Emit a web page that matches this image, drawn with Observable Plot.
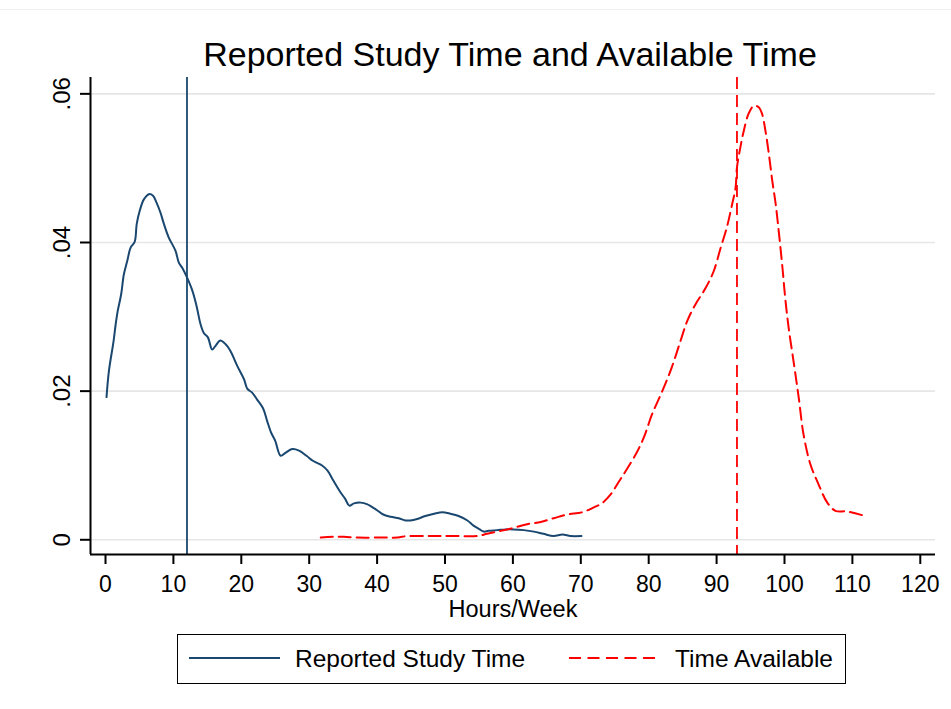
<!DOCTYPE html>
<html>
<head>
<meta charset="utf-8">
<script src="https://cdn.jsdelivr.net/npm/d3@7"></script>
<script src="https://cdn.jsdelivr.net/npm/@observablehq/plot@0.6"></script>
<style>
  html, body { margin: 0; padding: 0; background: #fff; }
  body { width: 951px; height: 709px; overflow: hidden; position: relative; font-family: "Liberation Sans", Arial, sans-serif; color: #000; }
  #topline { position: absolute; left: 0; top: 9px; width: 951px; height: 1px; background: #eeeeee; }
  #title { height: 72px; box-sizing: border-box; padding-top: 35px; padding-left: 69px; text-align: center; font-size: 34px; line-height: normal; white-space: nowrap; }
  #chart svg { display: block; }
  #legend { position: relative; margin-top: 10px; margin-left: 177px; width: 669px; height: 50px; box-sizing: border-box; border: 1.3px solid #000; }
  #legend .txt { position: absolute; top: 0; line-height: 48px; font-size: 24.5px; white-space: nowrap; }
  #legend svg { position: absolute; top: 0; }
</style>
</head>
<body>
<div id="topline"></div>
<div id="title">Reported Study Time and Available Time</div>
<div id="chart"></div>
<div id="legend">
  <svg width="100" height="48" style="left:10px"><line x1="1" x2="92" y1="23" y2="23" stroke="#1a476f" stroke-width="2"/></svg>
  <span class="txt" style="left:117px">Reported Study Time</span>
  <svg width="100" height="48" style="left:390px"><line x1="1" x2="91" y1="23" y2="23" stroke="#ff0000" stroke-width="2" stroke-dasharray="12,6.5"/></svg>
  <span class="txt" style="left:497px">Time Available</span>
</div>
<script>
// Reported study time density (hours/week, density)
const studyX = [0.15,0.5,1.2,1.5,1.8,2.3,2.7,3.2,3.7,4.3,4.6,5.05,5.65,6.4,7.0,7.5,8.1,8.6,9.3,10.3,10.8,11.3,12.0,12.8,13.4,14.0,14.5,15.1,15.7,16.2,16.9,17.7,18.4,19.4,20.4,20.9,21.6,22.3,23.2,23.8,24.4,25.0,25.8,26.5,27.5,28.5,29.6,30.6,31.9,32.7,33.6,34.6,35.3,35.9,36.6,37.6,38.5,39.8,40.9,42.0,43.2,44.2,44.9,45.9,47.1,48.4,49.6,50.8,52.0,53.3,54.2,55.1,55.7,56.4,57.7,58.9,60.1,61.6,63.1,64.5,66.0,67.3,68.5,70.1];
const studyY = [.0192,.0227,.0268,.0290,.0308,.0330,.0357,.0375,.0393,.0401,.0425,.0443,.0458,.0465,.0463,.0454,.0440,.0425,.0407,.0389,.0373,.0366,.0353,.0335,.0315,.0290,.0278,.0272,.0256,.0261,.0268,.0263,.0254,.0234,.0216,.0203,.0198,.0189,.0177,.0160,.0144,.0133,.0113,.0117,.0122,.0120,.0113,.0106,.0100,.0093,.0079,.0064,.0055,.0046,.0049,.0050,.0048,.0041,.0034,.0031,.0029,.0026,.0026,.0028,.0032,.0035,.0037,.0035,.0032,.0026,.0019,.0014,.0011,.0012,.0013,.0014,.0014,.0013,.0011,.0008,.0005,.0007,.0005,.0005];
// Time available density
const availX = [31.7,33.6,35.1,37.1,41.0,43.0,44.4,47.4,49.3,51.8,54.7,56.2,58.2,60.1,62.1,64.1,66.0,68.0,70.2,72.0,73.1,74.4,75.6,76.3,78.1,79.3,80.5,82.0,83.4,84.7,85.7,86.9,88.4,89.6,90.6,91.5,92.3,92.8,93.0,93.5,94.0,94.7,95.5,96.2,96.7,97.2,97.7,98.2,98.7,99.2,99.7,100.1,100.6,101.4,102.1,102.8,103.8,105.0,106.3,107.5,109.2,111.9];
const availY = [.0003,.0004,.0004,.0003,.0003,.0003,.0005,.0005,.0005,.0005,.0005,.0008,.0012,.0016,.0021,.0024,.0029,.0034,.0037,.0044,.0049,.0061,.0078,.0088,.0115,.0138,.0169,.0200,.0232,.0268,.0295,.0317,.0339,.0362,.0393,.0420,.0452,.0474,.0501,.0528,.0550,.0573,.0584,.0582,.0573,.0550,.0519,.0483,.0452,.0411,.0366,.0326,.0286,.0236,.0191,.0142,.0102,.0075,.0050,.0039,.0038,.0032];
// Reference lines
const studyRef = [12];
const availRef = [93];
const xTicks = [0,10,20,30,40,50,60,70,80,90,100,110,120];
const yTicks = [0,0.02,0.04,0.06];
const yTickLabels = ["0",".02",".04",".06"];
const xLabel = "Hours/Week";

const study = studyX.map((x, i) => ({x, y: studyY[i]}));
const avail = availX.map((x, i) => ({x, y: availY[i]}));
const xDomain = [-2.21, 122.24];
const yDomain = [-0.00198, 0.0622];
const font = "'Liberation Sans', Arial, sans-serif";

const chart = Plot.plot({
  width: 951,
  height: 552,
  marginLeft: 90,
  marginRight: 16,
  marginTop: 5,
  marginBottom: 70,
  style: {fontFamily: font, color: "#000", background: "#fff"},
  x: {domain: xDomain, axis: null},
  y: {domain: yDomain, axis: null},
  marks: [
    Plot.ruleY(yTicks, {stroke: "#e6e6e6", strokeWidth: 1.6}),
    Plot.ruleX(studyRef, {stroke: "#1a476f", strokeWidth: 1.8}),
    Plot.ruleX(availRef, {stroke: "#ff0000", strokeWidth: 1.8, strokeDasharray: "12,6"}),
    Plot.line(study, {x: "x", y: "y", stroke: "#1a476f", strokeWidth: 2, curve: "catmull-rom"}),
    Plot.line(avail, {x: "x", y: "y", stroke: "#ff0000", strokeWidth: 2, strokeDasharray: "12,6", curve: "catmull-rom"}),
    Plot.ruleX([xDomain[0]], {stroke: "#000", strokeWidth: 2}),
    Plot.ruleY([yDomain[0]], {stroke: "#000", strokeWidth: 2}),
    Plot.axisX({ticks: xTicks, label: null, tickSize: 10, tickPadding: 11.5, fontSize: 23, tickFormat: d => String(d), stroke: "#000", strokeWidth: 2, fill: "#000"}),
    Plot.axisY({ticks: yTicks, label: null, tickSize: 10, tickPadding: 18, fontSize: 24, tickFormat: d => yTickLabels[yTicks.indexOf(d)], tickRotate: -90, textAnchor: "middle", lineAnchor: "middle", stroke: "#000", strokeWidth: 2, fill: "#000"}),
    Plot.text([xLabel], {frameAnchor: "bottom", dy: 55, lineAnchor: "middle", fontSize: 23.5, fill: "#000"})
  ]
});
document.getElementById("chart").appendChild(chart);
</script>
</body>
</html>
